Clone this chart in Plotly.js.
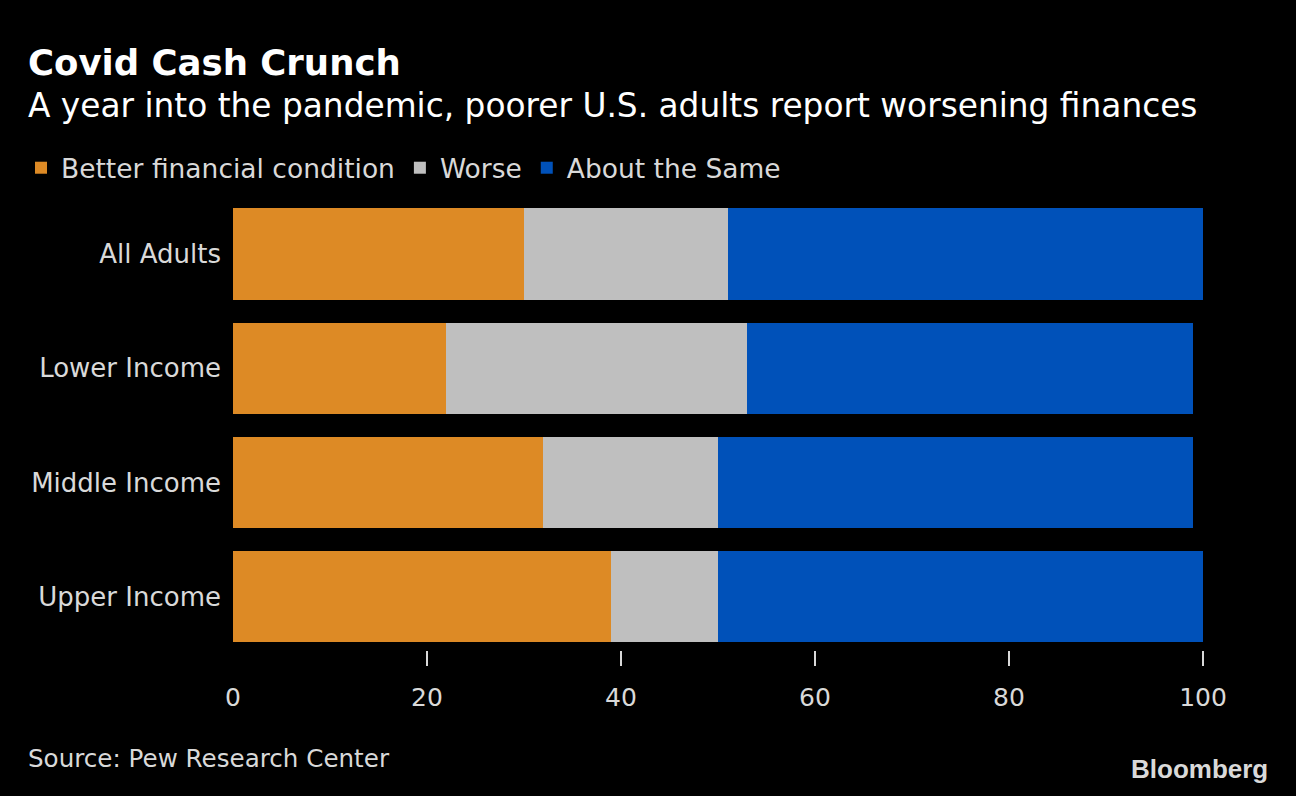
<!DOCTYPE html>
<html>
<head>
<meta charset="utf-8">
<script src="https://cdn.plot.ly/plotly-3.0.1.min.js"></script>
<style>
html,body{margin:0;padding:0;background:#000;}
#chart{width:1296px;height:796px;}
</style>
</head>
<body>
<div id="chart"></div>
<script>
var categories = ["All Adults", "Lower Income", "Middle Income", "Upper Income"];
var better = [30, 22, 32, 39];
var worse = [21, 31, 18, 11];
var same = [49, 46, 49, 50];
var seriesNames = ["Better financial condition", "Worse", "About the Same"];
var tickValues = [0, 20, 40, 60, 80, 100];
var tickMarks = [20, 40, 60, 80, 100];

var FONT = '"DejaVu Sans", sans-serif';
var colors = ["#dd8a25", "#bfbfbf", "#0051b9"];
var seriesVals = [better, worse, same];

var traces = seriesVals.map(function (vals, i) {
  return {
    type: "bar",
    orientation: "h",
    name: seriesNames[i],
    x: vals,
    y: categories,
    marker: { color: colors[i], line: { width: 0 } },
    hoverinfo: "x+y+name"
  };
});
// empty helper trace so the tick-mark axis (xaxis2) is drawn
traces.push({
  type: "scatter", mode: "none", x: [], y: [],
  xaxis: "x2", yaxis: "y", showlegend: false, hoverinfo: "skip"
});

var PW = 970, PH = 453;
function px(x) { return (x - 233) / PW; }
function py(y) { return (650 - y) / PH; }

var layout = {
  width: 1296,
  height: 796,
  paper_bgcolor: "#000",
  plot_bgcolor: "#000",
  barmode: "stack",
  bargap: 0.2,
  margin: { l: 233, r: 93, t: 197, b: 146, pad: 0 },
  font: { family: FONT, color: "#d9d9d9", size: 26 },
  showlegend: true,
  legend: {
    orientation: "h",
    x: px(21),
    xanchor: "left",
    y: py(168),
    yanchor: "middle",
    font: { family: FONT, size: 26.5, color: "#d9d9d9" },
    bgcolor: "rgba(0,0,0,0)",
    traceorder: "normal",
    itemclick: false
  },
  xaxis: {
    range: [0, 100],
    tickmode: "array",
    tickvals: tickValues,
    ticks: "",
    showgrid: false,
    zeroline: false,
    showline: false,
    ticklabelstandoff: 30,
    tickfont: { family: FONT, size: 25, color: "#d9d9d9" },
    fixedrange: true
  },
  xaxis2: {
    overlaying: "x",
    anchor: "y",
    side: "bottom",
    range: [0, 100],
    tickmode: "array",
    tickvals: tickMarks,
    ticks: "outside",
    ticklen: 15,
    tickwidth: 2,
    tickcolor: "#d9d9d9",
    showticklabels: false,
    showgrid: false,
    zeroline: false,
    showline: false,
    fixedrange: true
  },
  yaxis: {
    type: "category",
    categoryorder: "array",
    categoryarray: categories,
    range: [3.468, -0.5],
    ticks: "",
    showgrid: false,
    zeroline: false,
    showline: false,
    ticklabelstandoff: 11,
    tickfont: { family: FONT, size: 26, color: "#d9d9d9" },
    fixedrange: true
  },
  annotations: [
    {
      xref: "paper", yref: "paper", x: px(26), y: py(62),
      xanchor: "left", yanchor: "middle", showarrow: false,
      text: "<b>Covid Cash Crunch</b>",
      font: { family: FONT, size: 35.5, color: "#ffffff" }
    },
    {
      xref: "paper", yref: "paper", x: px(26), y: py(106),
      xanchor: "left", yanchor: "middle", showarrow: false,
      text: "A year into the pandemic, poorer U.S. adults report worsening finances",
      font: { family: FONT, size: 32.8, color: "#ffffff" }
    },
    {
      xref: "paper", yref: "paper", x: px(26), y: py(758),
      xanchor: "left", yanchor: "middle", showarrow: false,
      text: "Source: Pew Research Center",
      font: { family: FONT, size: 24.6, color: "#d9d9d9" }
    },
    {
      xref: "paper", yref: "paper", x: px(1270), y: py(769),
      xanchor: "right", yanchor: "middle", showarrow: false,
      text: "<b>Bloomberg</b>",
      font: { family: '"Liberation Sans", Arial, sans-serif', size: 26, color: "#d9d9d9" }
    }
  ]
};

Plotly.newPlot("chart", traces, layout, { displayModeBar: false });
</script>
</body>
</html>
